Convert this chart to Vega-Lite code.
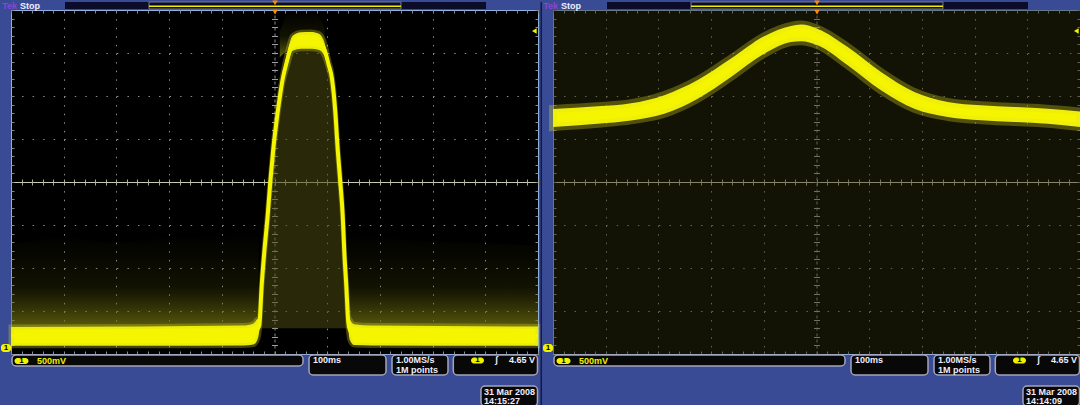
{
"$schema": "https://vega.github.io/schema/vega-lite/v6.json",
"background": "#3a4b96",
"padding": 0,
"autosize": {"type": "pad"},
"bounds": "flush",
"spacing": 15,
"datasets": {
"traceL": [
{"x":-5,"y":-3.58,"lo":-3.81,"hi":-3.37},
{"x":-2.5,"y":-3.58,"lo":-3.81,"hi":-3.36},
{"x":-0.6,"y":-3.57,"lo":-3.8,"hi":-3.34},
{"x":-0.4,"y":-3.53,"lo":-3.78,"hi":-3.29},
{"x":-0.311,"y":-3.4,"lo":-3.62,"hi":-3.18},
{"x":-0.288,"y":-3.33,"lo":-3.45,"hi":-3.2},
{"x":-0.243,"y":-2.4,"lo":-2.5,"hi":-2.3},
{"x":-0.194,"y":-1.63,"lo":-1.73,"hi":-1.53},
{"x":-0.129,"y":-0.77,"lo":-0.87,"hi":-0.67},
{"x":-0.08,"y":0,"lo":-0.1,"hi":0.1},
{"x":-0.023,"y":0.77,"lo":0.67,"hi":0.87},
{"x":0.061,"y":1.63,"lo":1.53,"hi":1.73},
{"x":0.156,"y":2.4,"lo":2.3,"hi":2.5},
{"x":0.232,"y":2.79,"lo":2.65,"hi":2.95},
{"x":0.345,"y":3.22,"lo":3.05,"hi":3.4},
{"x":0.503,"y":3.3,"lo":3.1,"hi":3.48},
{"x":0.693,"y":3.3,"lo":3.1,"hi":3.49},
{"x":0.844,"y":3.25,"lo":3.07,"hi":3.45},
{"x":0.958,"y":3.05,"lo":2.9,"hi":3.2},
{"x":1.025,"y":2.74,"lo":2.64,"hi":2.84},
{"x":1.091,"y":2.4,"lo":2.3,"hi":2.5},
{"x":1.154,"y":1.63,"lo":1.53,"hi":1.73},
{"x":1.199,"y":0.77,"lo":0.67,"hi":0.87},
{"x":1.249,"y":0,"lo":-0.1,"hi":0.1},
{"x":1.294,"y":-0.77,"lo":-0.87,"hi":-0.67},
{"x":1.325,"y":-1.63,"lo":-1.73,"hi":-1.53},
{"x":1.362,"y":-2.4,"lo":-2.5,"hi":-2.3},
{"x":1.4,"y":-3.26,"lo":-3.4,"hi":-3.1},
{"x":1.433,"y":-3.45,"lo":-3.68,"hi":-3.2},
{"x":1.509,"y":-3.55,"lo":-3.79,"hi":-3.31},
{"x":1.831,"y":-3.57,"lo":-3.8,"hi":-3.34},
{"x":5,"y":-3.58,"lo":-3.81,"hi":-3.36}
],
"noiseL": [
{"seg":"a","x":-5,"lo":-3.45,"hi":-1.45},
{"seg":"a","x":-4,"lo":-3.45,"hi":-1.3},
{"seg":"a","x":-3,"lo":-3.45,"hi":-1.4},
{"seg":"a","x":-2,"lo":-3.45,"hi":-1.3},
{"seg":"a","x":-1,"lo":-3.45,"hi":-1.25},
{"seg":"a","x":-0.3,"lo":-3.45,"hi":-1.2},
{"seg":"b","x":1.4,"lo":-3.45,"hi":-1.2},
{"seg":"b","x":2.5,"lo":-3.45,"hi":-1.35},
{"seg":"b","x":3.5,"lo":-3.45,"hi":-1.4},
{"seg":"b","x":4.5,"lo":-3.45,"hi":-1.45},
{"seg":"b","x":5,"lo":-3.45,"hi":-1.5},
{"seg":"c","x":0.1,"lo":2.9,"hi":3.5},
{"seg":"c","x":0.3,"lo":3.1,"hi":3.95},
{"seg":"c","x":0.7,"lo":3.2,"hi":4.0},
{"seg":"c","x":0.95,"lo":3.0,"hi":3.6}
],
"traceR": [
{"x":-5,"lo":1.279,"hi":1.7},
{"x":-4.152,"lo":1.356,"hi":1.76},
{"x":-3.52,"lo":1.433,"hi":1.83},
{"x":-2.888,"lo":1.588,"hi":2.02},
{"x":-2.254,"lo":1.937,"hi":2.37},
{"x":-1.622,"lo":2.442,"hi":2.87},
{"x":-0.991,"lo":2.984,"hi":3.39},
{"x":-0.484,"lo":3.256,"hi":3.63},
{"x":-0.294,"lo":3.272,"hi":3.66},
{"x":0.023,"lo":3.179,"hi":3.56},
{"x":0.592,"lo":2.714,"hi":3.14},
{"x":1.224,"lo":2.133,"hi":2.558},
{"x":1.856,"lo":1.705,"hi":2.093},
{"x":2.49,"lo":1.512,"hi":1.86},
{"x":3.121,"lo":1.435,"hi":1.784},
{"x":3.753,"lo":1.395,"hi":1.744},
{"x":4.387,"lo":1.356,"hi":1.705},
{"x":5,"lo":1.279,"hi":1.64}
],
"plotR": [{"x":-5,"x2":5,"y":-4,"y2":4}],
"frameL": [{"x":-5.19,"x2":5.076,"y":4.186,"y2":-5.233}],
"frameR": [{"x":-5.209,"x2":5.019,"y":4.186,"y2":-5.233}],
"divL": [{"x":5.047,"x2":5.076,"y":4.186,"y2":-5.233}],
"ui": [
{"k":"dark","x":-3.975,"x2":-2.381,"y":4.186,"y2":4.023},
{"k":"dark","x":2.4,"x2":4.013,"y":4.186,"y2":4.023},
{"k":"rec","x":-2.381,"x2":2.4,"y":4.186,"y2":4.023},
{"k":"box","x":-4.981,"x2":0.541,"y":-4.023,"y2":-4.279},
{"k":"box","x":0.655,"x2":2.116,"y":-4.023,"y2":-4.488},
{"k":"box","x":2.23,"x2":3.292,"y":-4.023,"y2":-4.488},
{"k":"box","x":3.393,"x2":4.99,"y":-4.023,"y2":-4.488},
{"k":"box","x":3.918,"x2":4.99,"y":-4.744,"y2":-5.209},
{"k":"pill","x":-4.934,"x2":-4.668,"y":-4.093,"y2":-4.233},
{"k":"pill","x":3.729,"x2":3.975,"y":-4.081,"y2":-4.221},
{"k":"pill","x":-5.19,"x2":-5.0,"y":-3.767,"y2":-3.953}
],
"recline": [{"x":-2.381,"x2":2.4,"y":4.09}],
"markers": [
{"x":0.01,"y":4.163,"tone":"orange","k":"trig"},
{"x":0.01,"y":3.95,"tone":"orange","k":"trig"},
{"x":4.93,"y":3.512,"tone":"yellow","k":"lvl"}
],
"ones": [
{"t":"1","x":-4.801,"y":-4.163,"tone":"black"},
{"t":"1","x":3.852,"y":-4.151,"tone":"black"},
{"t":"1","x":-5.095,"y":-3.86,"tone":"black"}
],
"textL": [
{"t":"Tek","x":-5.166,"y":4.09,"tone":"purple"},
{"t":"Stop","x":-4.83,"y":4.09,"tone":"white"},
{"t":"500mV","x":-4.507,"y":-4.163,"tone":"yellow"},
{"t":"100ms","x":0.731,"y":-4.151,"tone":"white"},
{"t":"1.00MS/s","x":2.306,"y":-4.151,"tone":"white"},
{"t":"1M points","x":2.306,"y":-4.372,"tone":"white"},
{"t":"ʃ","x":4.184,"y":-4.151,"tone":"white"},
{"t":"4.65 V","x":4.45,"y":-4.151,"tone":"white"},
{"t":"31 Mar 2008","x":3.975,"y":-4.884,"tone":"white"},
{"t":"14:15:27","x":3.975,"y":-5.093,"tone":"white"}
],
"textR": [
{"t":"Tek","x":-5.185,"y":4.09,"tone":"purple"},
{"t":"Stop","x":-4.849,"y":4.09,"tone":"white"},
{"t":"500mV","x":-4.507,"y":-4.163,"tone":"yellow"},
{"t":"100ms","x":0.731,"y":-4.151,"tone":"white"},
{"t":"1.00MS/s","x":2.306,"y":-4.151,"tone":"white"},
{"t":"1M points","x":2.306,"y":-4.372,"tone":"white"},
{"t":"ʃ","x":4.184,"y":-4.151,"tone":"white"},
{"t":"4.65 V","x":4.45,"y":-4.151,"tone":"white"},
{"t":"31 Mar 2008","x":3.975,"y":-4.884,"tone":"white"},
{"t":"14:14:09","x":3.975,"y":-5.093,"tone":"white"}
]
},
"hconcat": [
{
"width": 527, "height": 344,
"resolve": {"axis": {"x": "independent", "y": "independent"}},
"layer": [
{"data": {"name": "noiseL"},
 "mark": {"type": "area", "interpolate": "monotone", "fill": {"gradient": "linear", "x1": 0, "y1": 0, "x2": 0, "y2": 1, "stops": [{"offset": 0, "color": "rgba(90,90,10,0)"}, {"offset": 0.55, "color": "rgba(90,90,12,0.2)"}, {"offset": 1, "color": "rgba(130,130,20,0.75)"}]}},
 "encoding": {
  "x": {"field": "x", "type": "quantitative", "scale": {"domain": [-5, 5], "nice": false, "zero": false}, "axis": {"orient": "bottom", "values": [-4,-3,-2,-1,1,2,3,4], "grid": true, "gridColor": "#8c8c8c", "gridDash": [1.5, 7.1], "ticks": false, "labels": false, "domain": false, "title": null}},
  "y": {"field": "lo", "type": "quantitative", "scale": {"domain": [-4, 4], "nice": false, "zero": false}, "axis": {"orient": "left", "values": [-3,-2,-1,1,2,3], "grid": true, "gridColor": "#8c8c8c", "gridDash": [1.5, 9.04], "ticks": false, "labels": false, "domain": false, "title": null}},
  "y2": {"field": "hi"},
  "detail": {"field": "seg"}
 }},
{"data": {"name": "traceL"},
 "mark": {"type": "area", "interpolate": "monotone", "fill": "#4a4a10", "opacity": 0.55},
 "encoding": {
  "x": {"field": "x", "type": "quantitative", "scale": {"domain": [-5, 5], "nice": false, "zero": false}, "axis": {"orient": "bottom", "values": [-5,-4.8,-4.6,-4.4,-4.2,-4,-3.8,-3.6,-3.4,-3.2,-3,-2.8,-2.6,-2.4,-2.2,-2,-1.8,-1.6,-1.4,-1.2,-1,-0.8,-0.6,-0.4,-0.2,0,0.2,0.4,0.6,0.8,1,1.2,1.4,1.6,1.8,2,2.2,2.4,2.6,2.8,3,3.2,3.4,3.6,3.8,4,4.2,4.4,4.6,4.8,5], "ticks": true, "tickSize": -3, "tickColor": "#8a8a8a", "labels": false, "domain": false, "grid": false, "title": null}},
  "y": {"field": "y", "type": "quantitative", "scale": {"domain": [-4, 4], "nice": false, "zero": false}, "axis": {"orient": "left", "values": [-4,-3.8,-3.6,-3.4,-3.2,-3,-2.8,-2.6,-2.4,-2.2,-2,-1.8,-1.6,-1.4,-1.2,-1,-0.8,-0.6,-0.4,-0.2,0,0.2,0.4,0.6,0.8,1,1.2,1.4,1.6,1.8,2,2.2,2.4,2.6,2.8,3,3.2,3.4,3.6,3.8,4], "ticks": true, "tickSize": -3, "tickColor": "#8a8a8a", "labels": false, "domain": false, "grid": false, "title": null}},
  "y2": {"datum": -3.4}
 }},
{"data": {"name": "traceL"},
 "mark": {"type": "area", "interpolate": "monotone", "fill": "#f5f500", "stroke": "#d8d820", "strokeWidth": 5, "strokeOpacity": 0.3},
 "encoding": {
  "x": {"field": "x", "type": "quantitative", "scale": {"domain": [-5, 5], "nice": false, "zero": false}, "axis": {"orient": "top", "values": [-5,-4.8,-4.6,-4.4,-4.2,-4,-3.8,-3.6,-3.4,-3.2,-3,-2.8,-2.6,-2.4,-2.2,-2,-1.8,-1.6,-1.4,-1.2,-1,-0.8,-0.6,-0.4,-0.2,0,0.2,0.4,0.6,0.8,1,1.2,1.4,1.6,1.8,2,2.2,2.4,2.6,2.8,3,3.2,3.4,3.6,3.8,4,4.2,4.4,4.6,4.8,5], "ticks": true, "tickSize": -3, "tickColor": "#8a8a8a", "labels": false, "domain": false, "grid": false, "title": null}},
  "y": {"field": "lo", "type": "quantitative", "scale": {"domain": [-4, 4], "nice": false, "zero": false}, "axis": {"orient": "right", "values": [-4,-3.8,-3.6,-3.4,-3.2,-3,-2.8,-2.6,-2.4,-2.2,-2,-1.8,-1.6,-1.4,-1.2,-1,-0.8,-0.6,-0.4,-0.2,0,0.2,0.4,0.6,0.8,1,1.2,1.4,1.6,1.8,2,2.2,2.4,2.6,2.8,3,3.2,3.4,3.6,3.8,4], "ticks": true, "tickSize": -3, "tickColor": "#8a8a8a", "labels": false, "domain": false, "grid": false, "title": null}},
  "y2": {"field": "hi"}
 }},
{"data": {"name": "traceL"},
 "mark": {"type": "line", "interpolate": "monotone", "color": "#f5f500", "strokeWidth": 4},
 "encoding": {
  "x": {"field": "x", "type": "quantitative", "scale": {"domain": [-5, 5], "nice": false, "zero": false}, "axis": {"orient": "bottom", "offset": -172, "values": [-5,-4.8,-4.6,-4.4,-4.2,-4,-3.8,-3.6,-3.4,-3.2,-3,-2.8,-2.6,-2.4,-2.2,-2,-1.8,-1.6,-1.4,-1.2,-1,-0.8,-0.6,-0.4,-0.2,0,0.2,0.4,0.6,0.8,1,1.2,1.4,1.6,1.8,2,2.2,2.4,2.6,2.8,3,3.2,3.4,3.6,3.8,4,4.2,4.4,4.6,4.8,5], "ticks": true, "tickSize": 3, "tickColor": "#a8a898", "domain": true, "domainColor": "#c8c8b4", "labels": false, "grid": false, "title": null}},
  "y": {"field": "y", "type": "quantitative", "scale": {"domain": [-4, 4], "nice": false, "zero": false}, "axis": {"orient": "left", "offset": -263.5, "values": [-4,-3.8,-3.6,-3.4,-3.2,-3,-2.8,-2.6,-2.4,-2.2,-2,-1.8,-1.6,-1.4,-1.2,-1,-0.8,-0.6,-0.4,-0.2,0,0.2,0.4,0.6,0.8,1,1.2,1.4,1.6,1.8,2,2.2,2.4,2.6,2.8,3,3.2,3.4,3.6,3.8,4], "ticks": true, "tickSize": 3, "tickColor": "#a0a0a0", "domain": true, "domainColor": "#8a8a8a", "domainDash": [3, 3], "labels": false, "grid": false, "title": null}}
 }},
{"data": {"name": "frameL"},
 "mark": {"type": "rect", "opacity": 0},
 "encoding": {
  "x": {"field": "x", "type": "quantitative", "scale": {"domain": [-5, 5], "nice": false, "zero": false}, "axis": {"orient": "top", "offset": -172, "values": [-5,-4.8,-4.6,-4.4,-4.2,-4,-3.8,-3.6,-3.4,-3.2,-3,-2.8,-2.6,-2.4,-2.2,-2,-1.8,-1.6,-1.4,-1.2,-1,-0.8,-0.6,-0.4,-0.2,0,0.2,0.4,0.6,0.8,1,1.2,1.4,1.6,1.8,2,2.2,2.4,2.6,2.8,3,3.2,3.4,3.6,3.8,4,4.2,4.4,4.6,4.8,5], "ticks": true, "tickSize": 3, "tickColor": "#a8a898", "domain": false, "labels": false, "grid": false, "title": null}},
  "x2": {"field": "x2"},
  "y": {"field": "y", "type": "quantitative", "scale": {"domain": [-4, 4], "nice": false, "zero": false}, "axis": {"orient": "right", "offset": -263.5, "values": [-4,-3.8,-3.6,-3.4,-3.2,-3,-2.8,-2.6,-2.4,-2.2,-2,-1.8,-1.6,-1.4,-1.2,-1,-0.8,-0.6,-0.4,-0.2,0,0.2,0.4,0.6,0.8,1,1.2,1.4,1.6,1.8,2,2.2,2.4,2.6,2.8,3,3.2,3.4,3.6,3.8,4], "ticks": true, "tickSize": 3, "tickColor": "#a0a0a0", "domain": false, "labels": false, "grid": false, "title": null}},
  "y2": {"field": "y2"}
 }},
{"data": {"name": "divL"},
 "mark": {"type": "rect", "fill": "#171a40"},
 "encoding": {"x": {"field": "x", "type": "quantitative", "scale": {"domain": [-5, 5], "nice": false, "zero": false}, "axis": null}, "x2": {"field": "x2"}, "y": {"field": "y", "type": "quantitative", "scale": {"domain": [-4, 4], "nice": false, "zero": false}, "axis": null}, "y2": {"field": "y2"}}},
{"data": {"name": "ui"}, "transform": [{"filter": "datum.k == 'dark'"}],
 "mark": {"type": "rect", "fill": "#0b0b2a"},
 "encoding": {"x": {"field": "x", "type": "quantitative", "scale": {"domain": [-5, 5], "nice": false, "zero": false}, "axis": null}, "x2": {"field": "x2"}, "y": {"field": "y", "type": "quantitative", "scale": {"domain": [-4, 4], "nice": false, "zero": false}, "axis": null}, "y2": {"field": "y2"}}},
{"data": {"name": "ui"}, "transform": [{"filter": "datum.k == 'rec'"}],
 "mark": {"type": "rect", "fill": "#0b0b2a", "stroke": "#7a7a8a", "strokeWidth": 1},
 "encoding": {"x": {"field": "x", "type": "quantitative", "scale": {"domain": [-5, 5], "nice": false, "zero": false}, "axis": null}, "x2": {"field": "x2"}, "y": {"field": "y", "type": "quantitative", "scale": {"domain": [-4, 4], "nice": false, "zero": false}, "axis": null}, "y2": {"field": "y2"}}},
{"data": {"name": "recline"},
 "mark": {"type": "rule", "color": "#f0f000", "strokeWidth": 1.5},
 "encoding": {"x": {"field": "x", "type": "quantitative", "scale": {"domain": [-5, 5], "nice": false, "zero": false}, "axis": null}, "x2": {"field": "x2"}, "y": {"field": "y", "type": "quantitative", "scale": {"domain": [-4, 4], "nice": false, "zero": false}, "axis": null}}},
{"data": {"name": "ui"}, "transform": [{"filter": "datum.k == 'box'"}],
 "mark": {"type": "rect", "fill": "#080808", "stroke": "#a4a4b8", "strokeWidth": 1.5, "cornerRadius": 4},
 "encoding": {"x": {"field": "x", "type": "quantitative", "scale": {"domain": [-5, 5], "nice": false, "zero": false}, "axis": null}, "x2": {"field": "x2"}, "y": {"field": "y", "type": "quantitative", "scale": {"domain": [-4, 4], "nice": false, "zero": false}, "axis": null}, "y2": {"field": "y2"}}},
{"data": {"name": "ui"}, "transform": [{"filter": "datum.k == 'pill'"}],
 "mark": {"type": "rect", "fill": "#f2f200", "cornerRadius": 3},
 "encoding": {"x": {"field": "x", "type": "quantitative", "scale": {"domain": [-5, 5], "nice": false, "zero": false}, "axis": null}, "x2": {"field": "x2"}, "y": {"field": "y", "type": "quantitative", "scale": {"domain": [-4, 4], "nice": false, "zero": false}, "axis": null}, "y2": {"field": "y2"}}},
{"data": {"name": "markers"},
 "mark": {"type": "point", "filled": true, "opacity": 1, "size": 30},
 "encoding": {"x": {"field": "x", "type": "quantitative", "scale": {"domain": [-5, 5], "nice": false, "zero": false}, "axis": null}, "y": {"field": "y", "type": "quantitative", "scale": {"domain": [-4, 4], "nice": false, "zero": false}, "axis": null},
  "shape": {"field": "k", "type": "nominal", "scale": {"domain": ["trig", "lvl"], "range": ["triangle-down", "triangle-left"]}, "legend": null},
  "color": {"field": "tone", "type": "nominal", "scale": {"domain": ["yellow", "white", "purple", "black", "orange"], "range": ["#f2f200", "#eeeeff", "#8a46d0", "#000000", "#ff8c00"]}, "legend": null}}},
{"data": {"name": "textL"},
 "mark": {"type": "text", "align": "left", "baseline": "middle", "font": "Liberation Sans", "fontWeight": "bold", "fontSize": 9},
 "encoding": {"x": {"field": "x", "type": "quantitative", "scale": {"domain": [-5, 5], "nice": false, "zero": false}, "axis": null}, "y": {"field": "y", "type": "quantitative", "scale": {"domain": [-4, 4], "nice": false, "zero": false}, "axis": null}, "text": {"field": "t"},
  "color": {"field": "tone", "type": "nominal", "scale": {"domain": ["yellow", "white", "purple", "black", "orange"], "range": ["#f2f200", "#eeeeff", "#8a46d0", "#000000", "#ff8c00"]}, "legend": null}}},
{"data": {"name": "ones"},
 "mark": {"type": "text", "align": "center", "baseline": "middle", "font": "Liberation Sans", "fontWeight": "bold", "fontSize": 8},
 "encoding": {"x": {"field": "x", "type": "quantitative", "scale": {"domain": [-5, 5], "nice": false, "zero": false}, "axis": null}, "y": {"field": "y", "type": "quantitative", "scale": {"domain": [-4, 4], "nice": false, "zero": false}, "axis": null}, "text": {"field": "t"},
  "color": {"field": "tone", "type": "nominal", "scale": {"domain": ["yellow", "white", "purple", "black", "orange"], "range": ["#f2f200", "#eeeeff", "#8a46d0", "#000000", "#ff8c00"]}, "legend": null}}}
]
},
{
"width": 527, "height": 344,
"resolve": {"axis": {"x": "independent", "y": "independent"}},
"layer": [
{"data": {"name": "plotR"},
 "mark": {"type": "rect", "fill": "#2e2e0c", "opacity": 0.42},
 "encoding": {
  "x": {"field": "x", "type": "quantitative", "scale": {"domain": [-5, 5], "nice": false, "zero": false}, "axis": {"orient": "bottom", "values": [-4,-3,-2,-1,1,2,3,4], "grid": true, "gridColor": "#8c8c8c", "gridDash": [1.5, 7.1], "ticks": false, "labels": false, "domain": false, "title": null}},
  "x2": {"field": "x2"},
  "y": {"field": "y", "type": "quantitative", "scale": {"domain": [-4, 4], "nice": false, "zero": false}, "axis": {"orient": "left", "values": [-3,-2,-1,1,2,3], "grid": true, "gridColor": "#8c8c8c", "gridDash": [1.5, 9.04], "ticks": false, "labels": false, "domain": false, "title": null}},
  "y2": {"field": "y2"}
 }},
{"data": {"name": "traceR"},
 "mark": {"type": "area", "interpolate": "monotone", "fill": "#f5f500", "stroke": "#e0e020", "strokeWidth": 8, "strokeOpacity": 0.3},
 "encoding": {
  "x": {"field": "x", "type": "quantitative", "scale": {"domain": [-5, 5], "nice": false, "zero": false}, "axis": {"orient": "bottom", "values": [-5,-4.8,-4.6,-4.4,-4.2,-4,-3.8,-3.6,-3.4,-3.2,-3,-2.8,-2.6,-2.4,-2.2,-2,-1.8,-1.6,-1.4,-1.2,-1,-0.8,-0.6,-0.4,-0.2,0,0.2,0.4,0.6,0.8,1,1.2,1.4,1.6,1.8,2,2.2,2.4,2.6,2.8,3,3.2,3.4,3.6,3.8,4,4.2,4.4,4.6,4.8,5], "ticks": true, "tickSize": -3, "tickColor": "#8a8a8a", "labels": false, "domain": false, "grid": false, "title": null}},
  "y": {"field": "lo", "type": "quantitative", "scale": {"domain": [-4, 4], "nice": false, "zero": false}, "axis": {"orient": "left", "values": [-4,-3.8,-3.6,-3.4,-3.2,-3,-2.8,-2.6,-2.4,-2.2,-2,-1.8,-1.6,-1.4,-1.2,-1,-0.8,-0.6,-0.4,-0.2,0,0.2,0.4,0.6,0.8,1,1.2,1.4,1.6,1.8,2,2.2,2.4,2.6,2.8,3,3.2,3.4,3.6,3.8,4], "ticks": true, "tickSize": -3, "tickColor": "#8a8a8a", "labels": false, "domain": false, "grid": false, "title": null}},
  "y2": {"field": "hi"}
 }},
{"data": {"name": "frameR"},
 "mark": {"type": "rect", "opacity": 0},
 "encoding": {
  "x": {"field": "x", "type": "quantitative", "scale": {"domain": [-5, 5], "nice": false, "zero": false}, "axis": {"orient": "top", "values": [-5,-4.8,-4.6,-4.4,-4.2,-4,-3.8,-3.6,-3.4,-3.2,-3,-2.8,-2.6,-2.4,-2.2,-2,-1.8,-1.6,-1.4,-1.2,-1,-0.8,-0.6,-0.4,-0.2,0,0.2,0.4,0.6,0.8,1,1.2,1.4,1.6,1.8,2,2.2,2.4,2.6,2.8,3,3.2,3.4,3.6,3.8,4,4.2,4.4,4.6,4.8,5], "ticks": true, "tickSize": -3, "tickColor": "#8a8a8a", "labels": false, "domain": false, "grid": false, "title": null}},
  "x2": {"field": "x2"},
  "y": {"field": "y", "type": "quantitative", "scale": {"domain": [-4, 4], "nice": false, "zero": false}, "axis": {"orient": "right", "values": [-4,-3.8,-3.6,-3.4,-3.2,-3,-2.8,-2.6,-2.4,-2.2,-2,-1.8,-1.6,-1.4,-1.2,-1,-0.8,-0.6,-0.4,-0.2,0,0.2,0.4,0.6,0.8,1,1.2,1.4,1.6,1.8,2,2.2,2.4,2.6,2.8,3,3.2,3.4,3.6,3.8,4], "ticks": true, "tickSize": -3, "tickColor": "#8a8a8a", "labels": false, "domain": false, "grid": false, "title": null}},
  "y2": {"field": "y2"}
 }},
{"data": {"name": "ui"}, "transform": [{"filter": "datum.k == 'dark'"}],
 "mark": {"type": "rect", "fill": "#0b0b2a"},
 "encoding": {
  "x": {"field": "x", "type": "quantitative", "scale": {"domain": [-5, 5], "nice": false, "zero": false}, "axis": {"orient": "bottom", "offset": -172, "values": [-5,-4.8,-4.6,-4.4,-4.2,-4,-3.8,-3.6,-3.4,-3.2,-3,-2.8,-2.6,-2.4,-2.2,-2,-1.8,-1.6,-1.4,-1.2,-1,-0.8,-0.6,-0.4,-0.2,0,0.2,0.4,0.6,0.8,1,1.2,1.4,1.6,1.8,2,2.2,2.4,2.6,2.8,3,3.2,3.4,3.6,3.8,4,4.2,4.4,4.6,4.8,5], "ticks": true, "tickSize": 3, "tickColor": "#a8a898", "domain": true, "domainColor": "#c8c8b4", "labels": false, "grid": false, "title": null}},
  "x2": {"field": "x2"},
  "y": {"field": "y", "type": "quantitative", "scale": {"domain": [-4, 4], "nice": false, "zero": false}, "axis": {"orient": "left", "offset": -263.5, "values": [-4,-3.8,-3.6,-3.4,-3.2,-3,-2.8,-2.6,-2.4,-2.2,-2,-1.8,-1.6,-1.4,-1.2,-1,-0.8,-0.6,-0.4,-0.2,0,0.2,0.4,0.6,0.8,1,1.2,1.4,1.6,1.8,2,2.2,2.4,2.6,2.8,3,3.2,3.4,3.6,3.8,4], "ticks": true, "tickSize": 3, "tickColor": "#a0a0a0", "domain": true, "domainColor": "#8a8a8a", "domainDash": [3, 3], "labels": false, "grid": false, "title": null}},
  "y2": {"field": "y2"}
 }},
{"data": {"name": "ui"}, "transform": [{"filter": "datum.k == 'rec'"}],
 "mark": {"type": "rect", "fill": "#0b0b2a", "stroke": "#7a7a8a", "strokeWidth": 1},
 "encoding": {
  "x": {"field": "x", "type": "quantitative", "scale": {"domain": [-5, 5], "nice": false, "zero": false}, "axis": {"orient": "top", "offset": -172, "values": [-5,-4.8,-4.6,-4.4,-4.2,-4,-3.8,-3.6,-3.4,-3.2,-3,-2.8,-2.6,-2.4,-2.2,-2,-1.8,-1.6,-1.4,-1.2,-1,-0.8,-0.6,-0.4,-0.2,0,0.2,0.4,0.6,0.8,1,1.2,1.4,1.6,1.8,2,2.2,2.4,2.6,2.8,3,3.2,3.4,3.6,3.8,4,4.2,4.4,4.6,4.8,5], "ticks": true, "tickSize": 3, "tickColor": "#a8a898", "domain": false, "labels": false, "grid": false, "title": null}},
  "x2": {"field": "x2"},
  "y": {"field": "y", "type": "quantitative", "scale": {"domain": [-4, 4], "nice": false, "zero": false}, "axis": {"orient": "right", "offset": -263.5, "values": [-4,-3.8,-3.6,-3.4,-3.2,-3,-2.8,-2.6,-2.4,-2.2,-2,-1.8,-1.6,-1.4,-1.2,-1,-0.8,-0.6,-0.4,-0.2,0,0.2,0.4,0.6,0.8,1,1.2,1.4,1.6,1.8,2,2.2,2.4,2.6,2.8,3,3.2,3.4,3.6,3.8,4], "ticks": true, "tickSize": 3, "tickColor": "#a0a0a0", "domain": false, "labels": false, "grid": false, "title": null}},
  "y2": {"field": "y2"}
 }},
{"data": {"name": "recline"},
 "mark": {"type": "rule", "color": "#f0f000", "strokeWidth": 1.5},
 "encoding": {"x": {"field": "x", "type": "quantitative", "scale": {"domain": [-5, 5], "nice": false, "zero": false}, "axis": null}, "x2": {"field": "x2"}, "y": {"field": "y", "type": "quantitative", "scale": {"domain": [-4, 4], "nice": false, "zero": false}, "axis": null}}},
{"data": {"name": "ui"}, "transform": [{"filter": "datum.k == 'box'"}],
 "mark": {"type": "rect", "fill": "#080808", "stroke": "#a4a4b8", "strokeWidth": 1.5, "cornerRadius": 4},
 "encoding": {"x": {"field": "x", "type": "quantitative", "scale": {"domain": [-5, 5], "nice": false, "zero": false}, "axis": null}, "x2": {"field": "x2"}, "y": {"field": "y", "type": "quantitative", "scale": {"domain": [-4, 4], "nice": false, "zero": false}, "axis": null}, "y2": {"field": "y2"}}},
{"data": {"name": "ui"}, "transform": [{"filter": "datum.k == 'pill'"}],
 "mark": {"type": "rect", "fill": "#f2f200", "cornerRadius": 3},
 "encoding": {"x": {"field": "x", "type": "quantitative", "scale": {"domain": [-5, 5], "nice": false, "zero": false}, "axis": null}, "x2": {"field": "x2"}, "y": {"field": "y", "type": "quantitative", "scale": {"domain": [-4, 4], "nice": false, "zero": false}, "axis": null}, "y2": {"field": "y2"}}},
{"data": {"name": "markers"},
 "mark": {"type": "point", "filled": true, "opacity": 1, "size": 30},
 "encoding": {"x": {"field": "x", "type": "quantitative", "scale": {"domain": [-5, 5], "nice": false, "zero": false}, "axis": null}, "y": {"field": "y", "type": "quantitative", "scale": {"domain": [-4, 4], "nice": false, "zero": false}, "axis": null},
  "shape": {"field": "k", "type": "nominal", "scale": {"domain": ["trig", "lvl"], "range": ["triangle-down", "triangle-left"]}, "legend": null},
  "color": {"field": "tone", "type": "nominal", "scale": {"domain": ["yellow", "white", "purple", "black", "orange"], "range": ["#f2f200", "#eeeeff", "#8a46d0", "#000000", "#ff8c00"]}, "legend": null}}},
{"data": {"name": "textR"},
 "mark": {"type": "text", "align": "left", "baseline": "middle", "font": "Liberation Sans", "fontWeight": "bold", "fontSize": 9},
 "encoding": {"x": {"field": "x", "type": "quantitative", "scale": {"domain": [-5, 5], "nice": false, "zero": false}, "axis": null}, "y": {"field": "y", "type": "quantitative", "scale": {"domain": [-4, 4], "nice": false, "zero": false}, "axis": null}, "text": {"field": "t"},
  "color": {"field": "tone", "type": "nominal", "scale": {"domain": ["yellow", "white", "purple", "black", "orange"], "range": ["#f2f200", "#eeeeff", "#8a46d0", "#000000", "#ff8c00"]}, "legend": null}}},
{"data": {"name": "ones"},
 "mark": {"type": "text", "align": "center", "baseline": "middle", "font": "Liberation Sans", "fontWeight": "bold", "fontSize": 8},
 "encoding": {"x": {"field": "x", "type": "quantitative", "scale": {"domain": [-5, 5], "nice": false, "zero": false}, "axis": null}, "y": {"field": "y", "type": "quantitative", "scale": {"domain": [-4, 4], "nice": false, "zero": false}, "axis": null}, "text": {"field": "t"},
  "color": {"field": "tone", "type": "nominal", "scale": {"domain": ["yellow", "white", "purple", "black", "orange"], "range": ["#f2f200", "#eeeeff", "#8a46d0", "#000000", "#ff8c00"]}, "legend": null}}}
]
}
],
"config": {
"view": {"fill": "#000000", "stroke": "#90b0e0", "strokeWidth": 1},
"axis": {"labels": false}
}
}
